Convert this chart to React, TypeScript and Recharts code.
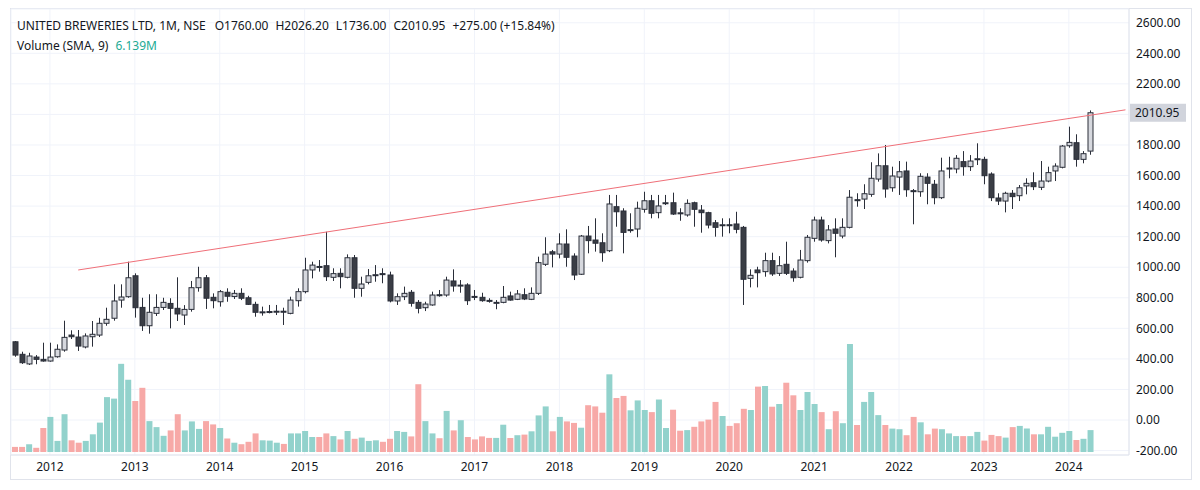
import React from "react";
import {
  ComposedChart,
  Bar,
  Cell,
  XAxis,
  YAxis,
  CartesianGrid,
  ReferenceLine,
} from "recharts";

// monthly candles, Aug 2011 .. Apr 2024, then 5 empty months of right padding
const firstMonth = { year: 2011, month: 8 };
const slotCount = 158;

const opens = [
  512, 430, 367, 412, 397,
  386, 414, 458, 556, 543, 478, 545, 556, 633, 666, 785, 807,
  944, 737, 617, 698, 737, 763, 731, 687, 724, 866, 931, 803,
  774, 836, 808, 829, 800, 757, 705, 708, 709, 712, 698, 781,
  840, 982, 1005, 1010, 934, 960, 934, 1062, 862, 901, 947, 958,
  949, 779, 807, 836, 770, 735, 753, 820, 818, 910, 879, 884,
  809, 803, 783, 766, 770, 812, 790, 820, 790, 829, 1019, 1101,
  1086, 1152, 1073, 954, 1204, 1178, 1160, 1108, 1396, 1368, 1242, 1250,
  1379, 1435, 1357, 1418, 1422, 1356, 1342, 1422, 1374, 1357, 1291, 1274,
  1278, 1283, 1261, 927, 982, 971, 1043, 960, 1019, 975, 934, 1043,
  1189, 1309, 1174, 1250, 1204, 1261, 1442, 1446, 1477, 1577, 1664, 1520,
  1590, 1630, 1501, 1494, 1590, 1543, 1455, 1645, 1643, 1691, 1658, 1706,
  1706, 1610, 1453, 1433, 1484, 1468, 1532, 1553, 1523, 1564, 1630, 1654,
  1795, 1815, 1706, 1760,
];

const highs = [
  517, 447, 440, 425, 506,
  506, 495, 650, 587, 589, 567, 648, 669, 735, 888, 888, 1036,
  960, 800, 823, 823, 800, 797, 934, 752, 910, 1003, 949, 829,
  851, 862, 851, 862, 813, 774, 742, 753, 753, 735, 807, 862,
  1062, 1036, 1047, 1232, 993, 993, 1084, 1080, 938, 988, 1014, 993,
  971, 829, 873, 851, 785, 774, 840, 851, 938, 986, 916, 895,
  851, 833, 797, 785, 877, 840, 851, 862, 868, 1069, 1196, 1113,
  1222, 1248, 1091, 1211, 1270, 1320, 1222, 1473, 1473, 1386, 1353, 1429,
  1494, 1473, 1473, 1473, 1488, 1386, 1444, 1429, 1407, 1363, 1309, 1320,
  1320, 1363, 1270, 986, 1003, 1095, 1095, 1073, 1167, 993, 1113, 1211,
  1331, 1331, 1276, 1320, 1320, 1505, 1484, 1543, 1687, 1745, 1800, 1658,
  1695, 1691, 1512, 1615, 1615, 1571, 1717, 1723, 1734, 1760, 1734, 1811,
  1723, 1621, 1484, 1494, 1505, 1538, 1582, 1621, 1695, 1658, 1680, 1800,
  1920, 1870, 1760, 2026.2,
];

const lows = [
  414, 367, 360, 365, 382,
  382, 408, 447, 530, 452, 469, 480, 543, 617, 650, 735, 800,
  670, 583, 565, 681, 720, 600, 648, 622, 709, 840, 727, 731,
  742, 774, 792, 785, 753, 676, 683, 698, 687, 622, 692, 742,
  829, 927, 971, 910, 910, 862, 927, 800, 807, 888, 905, 895,
  770, 753, 785, 742, 698, 713, 748, 807, 807, 840, 833, 753,
  785, 774, 768, 725, 764, 781, 785, 785, 785, 818, 1008, 999,
  1058, 1003, 916, 949, 1091, 1102, 1036, 1099, 1265, 1091, 1226, 1196,
  1357, 1320, 1320, 1407, 1342, 1304, 1331, 1265, 1226, 1254, 1200, 1200,
  1222, 1222, 753, 868, 868, 938, 943, 943, 949, 905, 927, 1030,
  1167, 1167, 1156, 1065, 1189, 1254, 1396, 1381, 1461, 1560, 1455, 1494,
  1473, 1461, 1281, 1461, 1412, 1412, 1446, 1582, 1615, 1599, 1630, 1669,
  1543, 1433, 1407, 1359, 1381, 1433, 1477, 1505, 1505, 1556, 1564, 1647,
  1782, 1658, 1680, 1736,
];

const closes = [
  425, 375, 419, 397, 386,
  412, 463, 541, 545, 484, 550, 561, 633, 659, 779, 805, 931,
  735, 617, 705, 737, 770, 731, 694, 724, 866, 931, 797, 781,
  840, 810, 829, 797, 757, 705, 708, 710, 712, 708, 785, 840,
  982, 1014, 1001, 938, 958, 938, 1062, 862, 890, 944, 951, 954,
  779, 807, 829, 764, 731, 759, 818, 816, 916, 877, 883, 781,
  805, 781, 779, 770, 803, 785, 825, 792, 829, 1030, 1086, 1086,
  1152, 1065, 949, 1204, 1174, 1157, 1095, 1414, 1363, 1228, 1246, 1386,
  1435, 1353, 1401, 1422, 1348, 1350, 1418, 1379, 1357, 1276, 1261, 1278,
  1274, 1248, 921, 947, 964, 1043, 956, 1010, 960, 931, 1047, 1196,
  1309, 1178, 1244, 1222, 1261, 1458, 1438, 1481, 1582, 1664, 1512, 1597,
  1625, 1507, 1497, 1595, 1549, 1455, 1630, 1649, 1713, 1658, 1695, 1710,
  1599, 1455, 1433, 1484, 1462, 1520, 1549, 1527, 1564, 1619, 1662, 1793,
  1817, 1706, 1743, 2010.95,
];

// volume, millions of shares
const volumes = [
  1.7, 1.7, 2.6, 1.4, 8.0,
  11.7, 3.7, 12.6, 3.9, 3.1, 3.7, 5.9, 9.8, 18.3, 17.8, 29.4, 24.1,
  17.0, 21.4, 10.3, 8.3, 5.4, 7.2, 12.6, 7.2, 10.2, 7.7, 10.3, 9.2,
  8.0, 4.5, 3.1, 2.6, 3.4, 6.2, 3.9, 3.8, 3.1, 2.7, 6.2, 6.2,
  7.0, 5.0, 5.0, 6.2, 5.3, 4.2, 7.0, 4.4, 4.8, 3.7, 3.9, 3.4,
  4.4, 7.0, 6.7, 5.2, 22.6, 10.3, 6.2, 4.6, 13.7, 7.2, 10.6, 5.0,
  4.2, 5.2, 4.7, 4.7, 9.1, 4.7, 5.6, 5.8, 6.9, 12.2, 15.2, 6.9,
  11.7, 10.2, 9.7, 8.1, 15.6, 15.2, 13.1, 25.9, 18.0, 18.7, 13.9, 17.2,
  14.0, 13.3, 17.5, 8.0, 14.1, 7.1, 7.3, 8.4, 10.2, 10.8, 16.7, 12.0,
  8.7, 9.6, 14.4, 14.0, 21.8, 22.0, 15.1, 16.0, 23.1, 18.9, 14.0, 20.0,
  16.0, 13.3, 7.6, 13.6, 9.6, 36.0, 9.0, 16.7, 20.0, 12.3, 9.0, 7.8,
  7.6, 5.6, 11.7, 9.9, 5.9, 7.8, 7.6, 6.2, 5.3, 5.3, 5.3, 6.7,
  3.8, 5.7, 5.3, 4.8, 8.3, 8.7, 7.8, 5.9, 5.9, 8.4, 5.1, 6.4,
  7.0, 4.0, 4.4, 7.3,
];

const yearTicks = [
  "2012-01", "2013-01", "2014-01", "2015-01", "2016-01", "2017-01", "2018-01",
  "2019-01", "2020-01", "2021-01", "2022-01", "2023-01", "2024-01",
];
const priceTicks = [-200, 0, 200, 400, 600, 800, 1000, 1200, 1400, 1600, 1800, 2000, 2200, 2400, 2600];

// resistance line drawn on the chart
const trendStart = { month: "2012-05", price: 982 };
const trendEnd = { month: "2024-09", price: 2030 };
const lastClose = 2010.95;

const months: string[] = [];
for (let i = 0; i < slotCount; i++) {
  const m = firstMonth.month - 1 + i;
  const y = firstMonth.year + Math.floor(m / 12);
  months.push(`${y}-${String((m % 12) + 1).padStart(2, "0")}`);
}

const rows = months.map((month, i) =>
  i < opens.length
    ? { month, open: opens[i], high: highs[i], low: lows[i], close: closes[i], vol: volumes[i] }
    : { month }
);

const UP_VOL = "#92d2cc";
const DOWN_VOL = "#f7a9a7";
const INK = "#2a2e39";
const FONT = "'Noto Sans', 'Open Sans', sans-serif";

function Candle(props: any) {
  const { x, y, width, height, payload } = props;
  if (!payload || payload.high == null) return null;
  const { open, close, high, low } = payload;
  const ppu = height / (high - low);
  const top = y + (high - Math.max(open, close)) * ppu;
  const bot = y + (high - Math.min(open, close)) * ppu;
  const cx = Math.round(x + width / 2) + 0.5;
  const left = cx - 2.5;
  const up = close >= open;
  return (
    <g>
      <line x1={cx} x2={cx} y1={y} y2={y + height} stroke={INK} strokeWidth={1} />
      <rect
        x={left}
        y={top}
        width={5}
        height={Math.max(bot - top, 1)}
        fill={up ? "#d6d8de" : "#3a3d45"}
        stroke={INK}
        strokeWidth={1}
      />
    </g>
  );
}

function PriceTag(props: any) {
  const vb = props.viewBox;
  if (!vb) return null;
  const x = vb.x + vb.width + 1;
  return (
    <g>
      <rect x={x} y={vb.y - 9} width={56} height={18} fill="#d1d4dc" />
      <text x={x + 5} y={vb.y} dy="0.35em" fontSize={12} fill="#131722" fontFamily={FONT}>
        {lastClose.toFixed(2)}
      </text>
    </g>
  );
}

export default function App() {
  return (
    <div style={{ position: "absolute", left: 0, top: 0, width: 1200, height: 490, background: "#fff", fontFamily: FONT }}>
      <div
        style={{
          position: "absolute",
          left: 10,
          top: 8,
          width: 1180,
          height: 470,
          border: "1px solid #e0e3eb",
        }}
      />
      <ComposedChart
        width={1191}
        height={479}
        data={rows}
        margin={{ top: 9, right: 0, bottom: 0, left: 11 }}
        style={{ position: "absolute", left: 0, top: 0 }}
      >
        <CartesianGrid xAxisId="main" yAxisId="price" stroke="#f0f3fa" />
        <XAxis
          xAxisId="main"
          dataKey="month"
          ticks={yearTicks}
          interval={0}
          tickFormatter={(m: string) => m.slice(0, 4)}
          height={24}
          tickLine={false}
          tickMargin={1}
          axisLine={{ stroke: "#e0e3eb" }}
          tick={{ fontSize: 12, fill: "#131722", fontFamily: FONT }}
        />
        <XAxis xAxisId="vol" dataKey="month" hide />
        <YAxis
          yAxisId="price"
          orientation="right"
          domain={[-229, 2690]}
          ticks={priceTicks}
          interval={0}
          allowDataOverflow
          width={62}
          tickLine={false}
          tickMargin={1}
          axisLine={{ stroke: "#e0e3eb" }}
          tickFormatter={(v: number) => (v === 2000 ? "" : v.toFixed(2))}
          tick={{ fontSize: 12, fill: "#131722", fontFamily: FONT, textAnchor: "start" }}
        />
        <YAxis yAxisId="vol" domain={[-1, 147.7]} hide allowDataOverflow />
        <Bar xAxisId="vol" yAxisId="vol" dataKey="vol" barSize={6} isAnimationActive={false}>
          {rows.map((r: any, i) => (
            <Cell key={i} fill={r.close >= r.open ? UP_VOL : DOWN_VOL} />
          ))}
        </Bar>
        <Bar
          xAxisId="main"
          yAxisId="price"
          dataKey={(d: any) => (d.high == null ? null : [d.low, d.high])}
          barSize={5}
          shape={<Candle />}
          isAnimationActive={false}
        />
        <ReferenceLine
          xAxisId="main"
          yAxisId="price"
          segment={[
            { x: trendStart.month, y: trendStart.price },
            { x: trendEnd.month, y: trendEnd.price },
          ]}
          stroke="#ef6f78"
          strokeWidth={1}
          ifOverflow="visible"
        />
        <ReferenceLine
          xAxisId="main"
          yAxisId="price"
          y={lastClose}
          stroke="none"
          ifOverflow="visible"
          label={<PriceTag />}
        />
      </ComposedChart>
      <div
        style={{
          position: "absolute",
          left: 1130,
          top: 456,
          width: 60,
          height: 22,
          background: "#fff",
        }}
      />
      <div
        style={{
          position: "absolute",
          left: 17,
          top: 17,
          fontSize: 12,
          color: "#131722",
          whiteSpace: "nowrap",
          lineHeight: "18px",
        }}
      >
        <div>
          <span style={{ marginRight: 9 }}>UNITED BREWERIES LTD, 1M, NSE</span>
          <span style={{ marginRight: 7 }}>O1760.00</span>
          <span style={{ marginRight: 7 }}>H2026.20</span>
          <span style={{ marginRight: 7 }}>L1736.00</span>
          <span style={{ marginRight: 7 }}>C2010.95</span>
          <span>+275.00 (+15.84%)</span>
        </div>
        <div style={{ marginTop: 2 }}>
          <span style={{ marginRight: 7 }}>Volume (SMA, 9)</span>
          <span style={{ color: "#22ab94" }}>6.139M</span>
        </div>
      </div>
    </div>
  );
}
